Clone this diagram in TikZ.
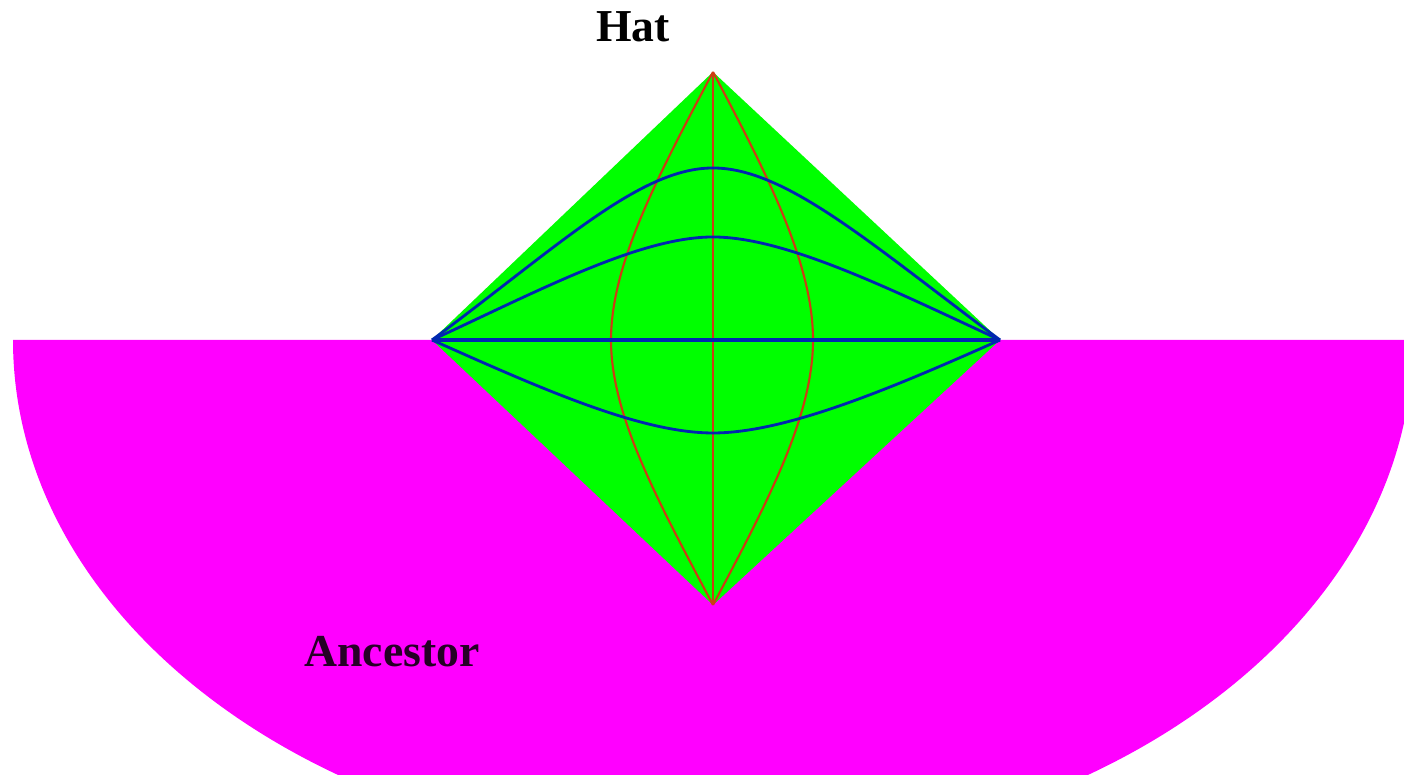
\documentclass[tikz,border=0pt]{standalone}
\usepackage{fontspec}
\setmainfont{Liberation Serif}
\usepackage{tikz}
\usetikzlibrary{positioning}
\usepackage{xcolor}

\definecolor{ancestorfill}{RGB}{255,0,255}
\definecolor{hatfill}{RGB}{0,255,0}
\definecolor{hatred}{RGB}{205,60,20}
\definecolor{hatblue}{RGB}{0,40,175}

\begin{document}
\begin{tikzpicture}[every node/.style={font=\fontsize{13}{15}\selectfont\bfseries, inner sep=0pt}]
    \useasboundingbox (0,0) rectangle (14.04,7.75);
    \clip (0,0) rectangle (14.04,7.75);

    % Define the corners of the hat
    \coordinate (c) at (7.13, 4.35);
    \coordinate (t) at (7.13, 7.03);
    \coordinate (b) at (7.13, 1.70);
    \coordinate (l) at (4.32, 4.35);
    \coordinate (r) at (10.00, 4.35);

    % Ancestor: lower half of an ellipse
    \fill[ancestorfill] (0.13, 4.35) arc[start angle=180, end angle=360, x radius=7, y radius=5.15] -- cycle;

    % Hat: the diamond
    \fill[hatfill] (t) -- (l) -- (b) -- (r) -- cycle;

    % Meridians (red)
    \coordinate (ml) at (6.11, 4.35);
    \coordinate (mr) at (8.13, 4.35);
    \begin{scope}[hatred, line width=0.6pt]
        \draw (t) -- (b);
        \draw (t) .. controls +(242:1.2) and +(0,0.75) .. (ml) .. controls +(0,-0.75) and +(118:1.2) .. (b);
        \draw (t) .. controls +(298:1.2) and +(0,0.75) .. (mr) .. controls +(0,-0.75) and +(62:1.2) .. (b);
    \end{scope}

    % Parallels (blue)
    \coordinate (p1) at (7.13, 6.07);
    \coordinate (p2) at (7.13, 5.38);
    \coordinate (p3) at (7.13, 3.42);
    \begin{scope}[hatblue, line width=0.8pt]
        \draw[line width=1.1pt] (l) -- (r);
        \draw (l) .. controls +(36.6:1.6) and +(-0.73,0) .. (p1) .. controls +(0.73,0) and +(143.4:1.6) .. (r);
        \draw (l) .. controls +(24.8:1.19) and +(-0.73,0) .. (p2) .. controls +(0.73,0) and +(155.2:1.19) .. (r);
        \draw (l) .. controls +(-24:1.18) and +(-0.73,0) .. (p3) .. controls +(0.73,0) and +(204:1.18) .. (r);
    \end{scope}

    % Labels
    \node[anchor=base] (hat) at (6.33, 7.33) {Hat};
    \node[anchor=base, text=black!85!ancestorfill] (ancestor) at (3.92, 1.08) {Ancestor};
\end{tikzpicture}
\end{document}
